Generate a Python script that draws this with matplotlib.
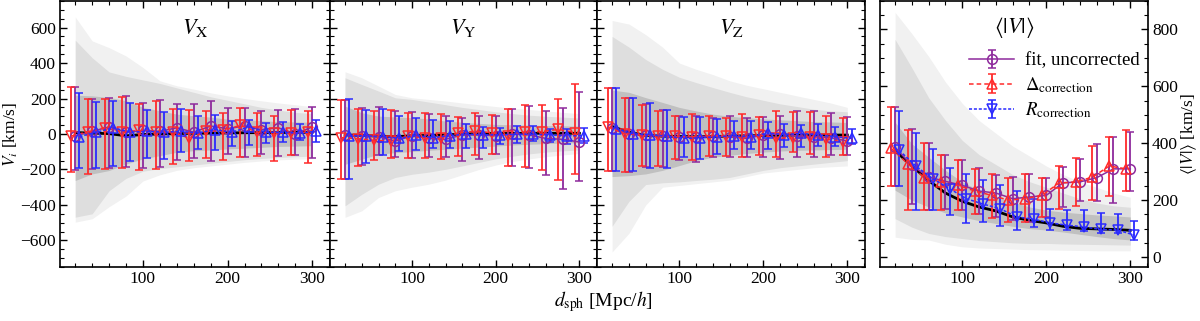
import matplotlib
matplotlib.use('Agg')
import matplotlib.pyplot as plt
import numpy as np
from matplotlib.ticker import MultipleLocator

plt.rcParams['font.family'] = ['Liberation Serif', 'DejaVu Serif']
plt.rcParams['mathtext.fontset'] = 'stix'

# distance bins [Mpc/h]
d = [20, 40, 60, 80, 100, 120, 140, 160, 180, 200, 220, 240, 260, 280, 300]

# ---- V_X ----
vx_mean = [8, 5, 2, -10, -3, 0, 2, 4, 5, 6, 7, 8, 8, 9, 10]
vx_light_hi = [660, 525, 487, 440, 375, 300, 272, 253, 232, 215, 200, 187, 175, 165, 154]
vx_light_lo = [-497, -478, -410, -350, -265, -230, -205, -190, -180, -170, -160, -152, -146, -142, -140]
vx_mid_hi = [529, 430, 350, 325, 305, 285, 260, 235, 210, 190, 170, 150, 135, 122, 115]
vx_mid_lo = [-469, -450, -320, -250, -210, -195, -185, -175, -165, -155, -145, -138, -132, -128, -125]
vx_dark_hi = [219, 215, 206, 188, 150, 131, 112, 103, 95, 84, 80, 75, 70, 68, 66]
vx_dark_lo = [-262, -225, -206, -169, -140, -122, -103, -94, -90, -84, -80, -75, -70, -68, -66]
vx_fit = [-10, 15, 40, 10, 20, 15, 35, 10, 45, 30, 45, 25, 35, 0, 40]
vx_fit_lo = [-205, -199, -189, -186, -193, -186, -146, -137, -152, -114, -129, -111, -124, -118, -137]
vx_fit_hi = [265, 200, 204, 214, 176, 189, 171, 171, 186, 144, 148, 129, 133, 143, 152]
vx_dcor = [-12, 13, 36, 10, 20, 12, 10, -24, 15, 20, 49, 10, 8, 3, 12]
vx_dcor_lo = [-212, -227, -195, -189, -204, -199, -171, -150, -137, -144, -129, -126, -152, -120, -161]
vx_dcor_hi = [264, 195, 200, 210, 171, 186, 143, 133, 129, 120, 148, 120, 101, 133, 129]
vx_rcor = [-15, 10, 35, 10, 15, 10, 15, 5, 25, 10, 40, 10, 10, 5, 15]
vx_rcor_lo = [-193, -193, -182, -152, -133, -143, -99, -86, -92, -66, -60, -49, -43, -36, -45]
vx_rcor_hi = [232, 182, 186, 176, 133, 126, 139, 101, 105, 75, 80, 64, 69, 54, 80]

# ---- V_Y ----
vy_mean = [-5, -8, -12, -15, -10, -8, -5, 0, 2, 3, 3, 4, 4, 4, 4]
vy_light_hi = [351, 317, 270, 223, 204, 195, 186, 175, 165, 155, 145, 138, 130, 122, 115]
vy_light_lo = [-470, -433, -358, -320, -300, -283, -260, -230, -200, -175, -155, -140, -128, -118, -110]
vy_mid_hi = [317, 279, 242, 204, 195, 180, 165, 150, 138, 125, 115, 106, 100, 95, 90]
vy_mid_lo = [-405, -340, -283, -245, -227, -215, -199, -180, -160, -140, -125, -112, -102, -95, -90]
vy_dark_hi = [157, 120, 101, 96, 92, 85, 73, 66, 60, 54, 52, 50, 48, 46, 45]
vy_dark_lo = [-171, -142, -114, -105, -99, -92, -86, -80, -74, -68, -62, -58, -54, -51, -49]
vy_fit = [-5, -10, -15, -40, -10, -25, -30, -5, -5, -10, 0, -5, -25, -30, -45]
vy_fit_lo = [-255, -174, -120, -129, -133, -129, -129, -152, -139, -114, -180, -189, -233, -308, -264]
vy_fit_hi = [189, 148, 154, 129, 124, 111, 101, 92, 101, 99, 143, 158, 129, 148, 238]
vy_dcor = [-20, -26, -36, -39, -11, -24, -20, 5, 15, 8, -10, 13, 13, 26, 8]
vy_dcor_lo = [-255, -180, -148, -133, -133, -137, -142, -124, -120, -111, -180, -186, -203, -259, -223]
vy_dcor_hi = [189, 139, 129, 133, 120, 116, 111, 96, 116, 107, 139, 163, 161, 195, 283]
vy_rcor = [-10, -10, -15, -25, -8, -20, -10, 0, -5, -5, -2, -2, -5, -10, -10]
vy_rcor_lo = [-255, -161, -120, -96, -92, -77, -77, -81, -81, -54, -49, -39, -45, -58, -49]
vy_rcor_hi = [199, 133, 139, 101, 88, 79, 73, 54, 39, 36, 45, 45, 26, 26, 32]

# ---- V_Z ----
vz_mean = [42, 10, -8, -12, -14, -15, -14, -12, -10, -8, -7, -6, -6, -6, -6]
vz_light_hi = [640, 620, 560, 490, 400, 365, 335, 300, 275, 255, 235, 215, 195, 175, 150]
vz_light_lo = [-665, -560, -400, -300, -290, -280, -270, -260, -240, -220, -210, -200, -190, -185, -180]
vz_mid_hi = [550, 490, 420, 365, 320, 290, 262, 235, 210, 190, 170, 155, 140, 130, 125]
vz_mid_lo = [-520, -380, -285, -275, -270, -262, -255, -245, -225, -205, -190, -180, -170, -160, -150]
vz_dark_hi = [248, 235, 205, 178, 150, 130, 112, 100, 92, 85, 80, 75, 70, 68, 65]
vz_dark_lo = [-240, -235, -225, -205, -178, -150, -131, -120, -110, -102, -96, -92, -90, -88, -86]
vz_fit = [35, 0, -8, -10, -18, -15, -12, -15, -25, -5, 0, -10, -15, -20, -40]
vz_fit_lo = [-206, -216, -184, -187, -146, -159, -128, -131, -131, -131, -141, -128, -128, -116, -116]
vz_fit_hi = [262, 202, 169, 135, 103, 103, 90, 103, 90, 94, 103, 131, 131, 116, 94]
vz_dcor = [41, 0, -4, -12, -14, -16, -9, -10, -19, -4, -22, -22, -19, -28, -45]
vz_dcor_lo = [-206, -216, -178, -182, -141, -146, -122, -122, -128, -116, -131, -103, -112, -128, -116]
vz_dcor_hi = [262, 202, 163, 131, 103, 112, 99, 90, 112, 97, 131, 122, 122, 103, 90]
vz_rcor = [30, 2, -5, -12, -25, -22, -15, -10, -15, 5, -3, 3, -5, -15, -25]
vz_rcor_lo = [-210, -210, -191, -193, -131, -141, -112, -84, -84, -84, -75, -75, -66, -69, -56]
vz_rcor_hi = [257, 202, 172, 137, 97, 97, 84, 71, 75, 66, 56, 53, 56, 38, 28]

# ---- <|V|> ----
va_mean = [374, 320, 269, 225, 196, 176, 162, 141, 129, 120, 108, 101, 99, 97, 94]
va_light_hi = [860, 785, 705, 615, 540, 480, 435, 390, 355, 320, 290, 265, 245, 225, 210]
va_light_lo = [70, 62, 60, 45, 36, 32, 30, 28, 26, 25, 24, 23, 22, 22, 22]
va_mid_hi = [765, 665, 560, 480, 410, 360, 325, 290, 265, 245, 225, 205, 190, 180, 175]
va_mid_lo = [135, 105, 83, 72, 65, 58, 54, 50, 48, 48, 46, 45, 44, 43, 42]
va_dark_hi = [474, 398, 351, 305, 264, 235, 211, 194, 176, 165, 158, 153, 148, 145, 141]
va_dark_lo = [235, 200, 176, 155, 141, 128, 118, 108, 100, 95, 88, 80, 72, 65, 60]
va_fit = [386, 322, 281, 266, 252, 232, 225, 205, 211, 217, 261, 264, 279, 310, 310]
va_fit_lo = [250, 188, 165, 170, 167, 153, 141, 130, 124, 141, 176, 196, 196, 191, 231]
va_fit_hi = [526, 450, 400, 360, 342, 313, 287, 281, 291, 279, 316, 343, 398, 421, 439]
va_dcor = [383, 328, 279, 264, 252, 232, 217, 200, 205, 217, 260, 264, 281, 320, 310]
va_dcor_lo = [250, 167, 165, 167, 165, 153, 138, 124, 124, 141, 168, 179, 200, 215, 231]
va_dcor_hi = [529, 447, 400, 357, 340, 310, 291, 279, 291, 278, 320, 347, 391, 421, 447]
va_rcor = [375, 319, 275, 240, 205, 186, 170, 141, 133, 120, 112, 106, 97, 95, 77]
va_rcor_lo = [250, 167, 167, 147, 120, 124, 109, 95, 106, 95, 95, 92, 86, 83, 60]
va_rcor_hi = [515, 436, 380, 313, 291, 270, 252, 232, 203, 170, 167, 165, 155, 151, 126]

PURPLE = '#8e2a9c'
RED = '#ff2a2a'
BLUE = '#2a2aff'


def draw_panel(ax, mean, bands, fit, dcor, rcor, dmark, rmark):
    x = np.array(d, dtype=float)
    cols = ['#f1f1f1', '#dedede', '#c0c0c0']
    for (lo, hi), c in zip(bands, cols):
        ax.fill_between(x, lo, hi, color=c, lw=0, zorder=1)
    ax.plot(x, mean, color='k', lw=2, zorder=2)
    specs = [(fit, 0, PURPLE, 'o', '-', 'fit, uncorrected'),
             (dcor, -5, RED, dmark, (0, (3, 2)), r'$\Delta_\mathrm{correction}$'),
             (rcor, 5, BLUE, rmark, (0, (2, 1.2)), r'$R_\mathrm{correction}$')]
    for (y, lo, hi), off, c, m, ls, lab in specs:
        y = np.array(y, float)
        err = [y - np.array(lo), np.array(hi) - y]
        ax.errorbar(x + off, y, yerr=err, color=c, marker=m, ms=7, mfc='none',
                    mec=c, mew=1.1, ls=ls, lw=1.1, elinewidth=1.3, capsize=3,
                    capthick=1.3, zorder=3, label=lab)


def style(ax):
    ax.set_xlim(2, 321)
    ax.xaxis.set_major_locator(MultipleLocator(100))
    ax.xaxis.set_minor_locator(MultipleLocator(20))
    ax.tick_params(which='both', direction='in', top=True, right=True, labelsize=12.5, pad=3)
    ax.tick_params(which='major', length=5, width=1)
    ax.tick_params(which='minor', length=3, width=0.8)
    for s in ax.spines.values():
        s.set_linewidth(1.2)


fig = plt.figure(figsize=(12, 3.21), dpi=100)
bot, h = 0.1682, 0.8287
ax1 = fig.add_axes([0.05, bot, 0.225, h])
ax2 = fig.add_axes([0.275, bot, 0.2225, h])
ax3 = fig.add_axes([0.4975, bot, 0.2233, h])
ax4 = fig.add_axes([0.7333, bot, 0.2233, h])

draw_panel(ax1, vx_mean, [(vx_light_lo, vx_light_hi), (vx_mid_lo, vx_mid_hi), (vx_dark_lo, vx_dark_hi)],
           (vx_fit, vx_fit_lo, vx_fit_hi), (vx_dcor, vx_dcor_lo, vx_dcor_hi),
           (vx_rcor, vx_rcor_lo, vx_rcor_hi), 'v', '^')
draw_panel(ax2, vy_mean, [(vy_light_lo, vy_light_hi), (vy_mid_lo, vy_mid_hi), (vy_dark_lo, vy_dark_hi)],
           (vy_fit, vy_fit_lo, vy_fit_hi), (vy_dcor, vy_dcor_lo, vy_dcor_hi),
           (vy_rcor, vy_rcor_lo, vy_rcor_hi), 'v', '^')
draw_panel(ax3, vz_mean, [(vz_light_lo, vz_light_hi), (vz_mid_lo, vz_mid_hi), (vz_dark_lo, vz_dark_hi)],
           (vz_fit, vz_fit_lo, vz_fit_hi), (vz_dcor, vz_dcor_lo, vz_dcor_hi),
           (vz_rcor, vz_rcor_lo, vz_rcor_hi), 'v', '^')
draw_panel(ax4, va_mean, [(va_light_lo, va_light_hi), (va_mid_lo, va_mid_hi), (va_dark_lo, va_dark_hi)],
           (va_fit, va_fit_lo, va_fit_hi), (va_dcor, va_dcor_lo, va_dcor_hi),
           (va_rcor, va_rcor_lo, va_rcor_hi), '^', 'v')

titles = [r'$V_\mathrm{X}$', r'$V_\mathrm{Y}$', r'$V_\mathrm{Z}$']
for ax, t in zip([ax1, ax2, ax3], titles):
    style(ax)
    ax.set_ylim(-750, 750)
    ax.yaxis.set_major_locator(MultipleLocator(200))
    ax.yaxis.set_minor_locator(MultipleLocator(50))
    ax.text(0.5, 0.9, t, transform=ax.transAxes, ha='center', va='center', fontsize=16)
for ax in [ax2, ax3]:
    ax.tick_params(labelleft=False)
ax1.set_ylabel(r'$V_i$ [km/s]', fontsize=12.5, labelpad=0)

style(ax4)
ax4.set_ylim(-35, 900)
ax4.yaxis.set_major_locator(MultipleLocator(200))
ax4.yaxis.set_minor_locator(MultipleLocator(50))
ax4.tick_params(labelleft=False, labelright=True)
ax4.yaxis.set_label_position('right')
ax4.set_ylabel(r'$\langle |V| \rangle$ [km/s]', fontsize=12.5, labelpad=1)
ax4.text(0.5, 0.9, r'$\langle |V| \rangle$', transform=ax4.transAxes, ha='center',
         va='center', fontsize=16)
ax4.legend(loc='upper left', bbox_to_anchor=(0.27, 0.87), frameon=False, fontsize=13.5,
           handlelength=2.4, labelspacing=0.3, handletextpad=0.6)

fig.text(0.503, 0.062, r'$d_\mathrm{sph}$ [Mpc/$h$]', ha='center', va='center', fontsize=14)

fig.savefig('out.png', dpi=100)
